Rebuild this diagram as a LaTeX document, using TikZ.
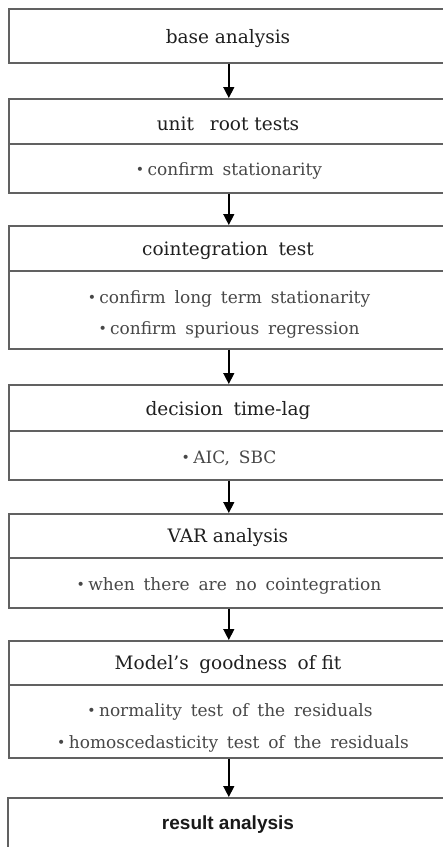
\documentclass[tikz,border=0pt]{standalone}
\usepackage{fontspec}
\setmainfont{DejaVu Serif}
\newfontfamily\headsans{Liberation Sans}
\usetikzlibrary{arrows.meta}
\newcommand\widespaces{\spaceskip=0.52em plus 0.1em\relax}
\newcommand\bul{{\fontsize{14}{14}\selectfont\raisebox{0.1ex}{•}}\hspace{0.2em}}

\begin{document}
\begin{tikzpicture}[x=1pt,y=-1pt,
  stage/.style={draw=black!62, line width=1.6pt, rectangle, inner sep=0pt,
    minimum width=440pt, anchor=north west},
  title/.style={font=\fontsize{18.5}{22}\selectfont, text=black!88,
    inner sep=0pt},
  item/.style={font=\fontsize{17}{20}\selectfont\widespaces,
    text=black!72, inner sep=0pt},
  final/.style={font=\headsans\bfseries\fontsize{19}{22}\selectfont,
    text=black!90, inner sep=0pt},
  divider/.style={draw=black!62, line width=1.4pt},
  flow/.style={draw=black, line width=1.4pt,
    -{Triangle[length=11pt,width=11pt]}}]

\useasboundingbox (0,0) rectangle (443,847);
\clip (0,0) rectangle (443,847);
\fill[white] (0,0) rectangle (443,847);

% stage boxes
\node[stage, minimum height=54pt]  (b1) at (8,8)   {};
\node[stage, minimum height=94pt]  (b2) at (8,98)  {};
\node[stage, minimum height=123pt] (b3) at (8,225) {};
\node[stage, minimum height=95pt]  (b4) at (8,384) {};
\node[stage, minimum height=94pt]  (b5) at (8,513) {};
\node[stage, minimum height=117pt] (b6) at (8,640) {};
\node[stage, minimum height=80pt]  (b7) at (7,797) {};

% dividers between title row and items
\draw[divider] (b2.west |- 0,144) -- (b2.east |- 0,144);
\draw[divider] (b3.west |- 0,271) -- (b3.east |- 0,271);
\draw[divider] (b4.west |- 0,431) -- (b4.east |- 0,431);
\draw[divider] (b5.west |- 0,558) -- (b5.east |- 0,558);
\draw[divider] (b6.west |- 0,685) -- (b6.east |- 0,685);

% texts
\node[title] (t1) at (228,39)  {base analysis};
\node[title] (t2) at (228,124) {unit\hspace{0.55em} root tests};
\node[item]  (i2) at (229,171) {\bul confirm stationarity};
\node[title] (t3) at (228,251) {cointegration\hspace{0.25em} test};
\node[item]  (i3a) at (229,299) {\bul confirm long term stationarity};
\node[item]  (i3b) at (229,330) {\bul confirm spurious regression};
\node[title] (t4) at (228,411) {decision\hspace{0.25em} time-lag};
\node[item]  (i4) at (229,458) {\bul AIC, SBC};
\node[title] (t5) at (228,538) {VAR analysis};
\node[item]  (i5) at (229,586) {\bul when there are no cointegration};
\node[title] (t6) at (228,665) {Model’s\hspace{0.25em} goodness\hspace{0.25em} of fit};
\node[item]  (i6a) at (230,712) {\bul normality test of the residuals};
\node[item]  (i6b) at (233,744) {\bul homoscedasticity test of the residuals};
\node[final] (t7) at (228,825) {result analysis};

% flow arrows
\draw[flow] (b1.south) -- (b2.north);
\draw[flow] (b2.south) -- (b3.north);
\draw[flow] (b3.south) -- (b4.north);
\draw[flow] (b4.south) -- (b5.north);
\draw[flow] (b5.south) -- (b6.north);
\draw[flow] (b6.south) -- (b7.north -| b6.south);
\end{tikzpicture}
\end{document}
